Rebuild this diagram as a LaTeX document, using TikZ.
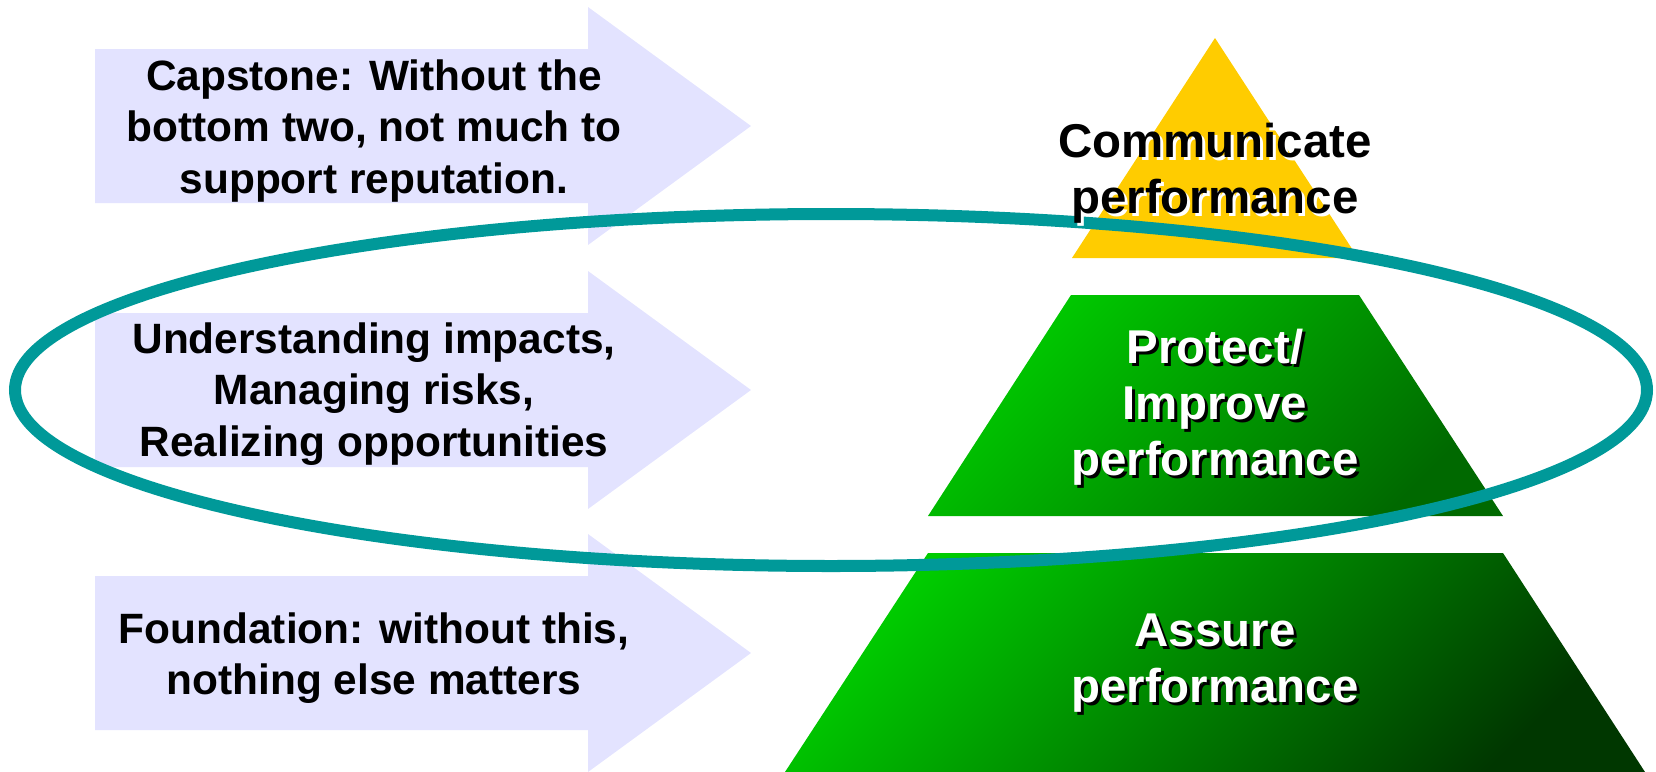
\documentclass[tikz,border=0pt]{standalone}
\usepackage{fontspec}
\setmainfont{Liberation Sans}
\usetikzlibrary{positioning}
\definecolor{arrowfill}{RGB}{227,227,255}
\definecolor{capgold}{RGB}{255,204,0}
\definecolor{ringteal}{RGB}{0,153,153}
\definecolor{greenlight}{RGB}{0,204,0}
\definecolor{greenmid}{RGB}{0,105,0}
\definecolor{greendark}{RGB}{0,55,0}

\begin{document}
\begin{tikzpicture}[x=0.01cm,y=-0.01cm,
  note/.style={font=\bfseries\fontsize{12.06pt}{14.65pt}\selectfont,align=center,inner sep=0pt},
  level/.style={font=\bfseries\fontsize{13.49pt}{15.93pt}\selectfont,align=center,inner sep=0pt},
  band/.style={top color=greenlight,bottom color=#1,shading angle=45}]
\useasboundingbox (0,0) rectangle (1656,772);

% Draw the three arrows
\foreach \y in {126,390,653}
  \fill[arrowfill] (95,\y-77) -- (588,\y-77) -- (588,\y-119) -- (751,\y)
    -- (588,\y+119) -- (588,\y+77) -- (95,\y+77) -- cycle;

% Draw the pyramid levels
\fill[capgold] (1215,38) -- (1358,258) -- (1072,258) -- cycle;
\shade[band=greenmid] (1071,295) -- (1359,295) -- (1503,516) -- (928,516) -- cycle;
\shade[band=greendark] (928,553) -- (1503,553) -- (1645,772) -- (785,772) -- cycle;

% Draw the ring round the middle row
\draw[ringteal,line width=0.12cm] (831,390) ellipse [x radius=816,y radius=176];

% Texts of the arrows
\node[note] (capstone) at (374,131) {Capstone: Without the\\bottom two, not much to\\support reputation.};
\node[note] (middle) at (374,394) {Understanding impacts,\\Managing risks,\\Realizing opportunities};
\node[note] (foundation) at (374,658) {Foundation: without this,\\nothing else matters};

% Texts of the pyramid, each with its shadow
\node[level,white] (communicateS) at (1218,176.5) {Communicate\\performance};
\node[level,black] (communicate) at (1215,173.5) {Communicate\\performance};
\node[level,black] (protectS) at (1218,410.7) {Protect/\\Improve\\performance};
\node[level,white] (protect) at (1215,407.7) {Protect/\\Improve\\performance};
\node[level,black] (assureS) at (1218,665.7) {Assure\\performance};
\node[level,white] (assure) at (1215,662.7) {Assure\\performance};
\end{tikzpicture}
\end{document}
